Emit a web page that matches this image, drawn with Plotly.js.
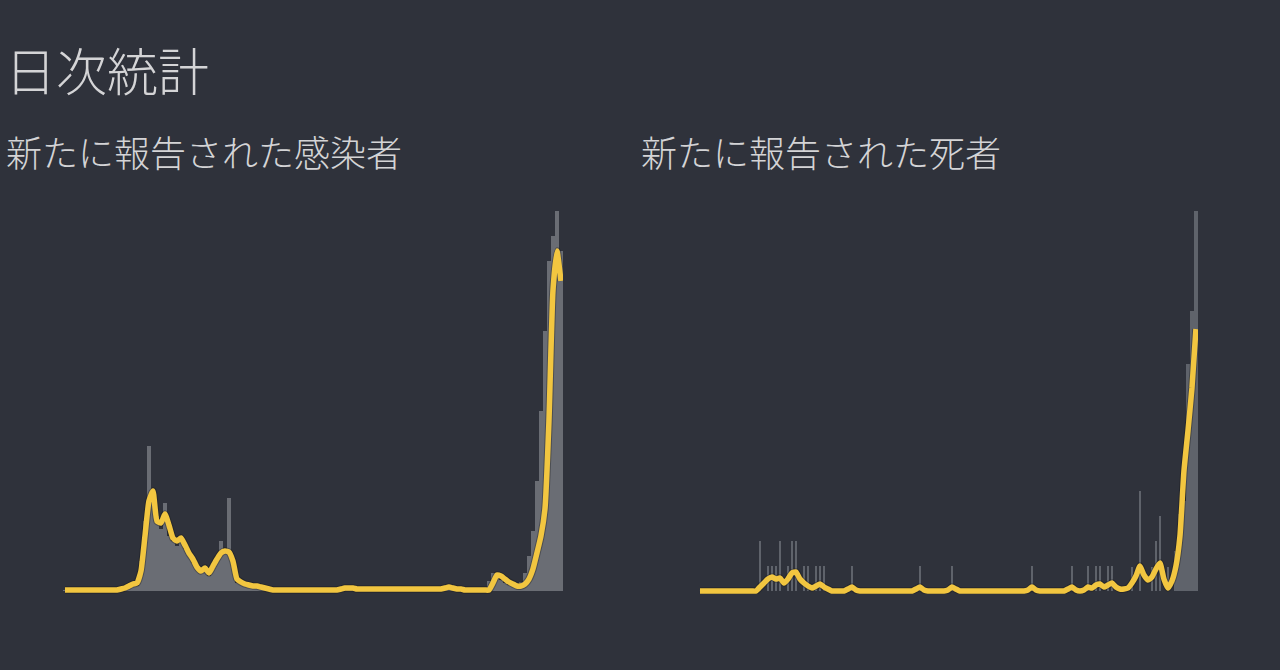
<!DOCTYPE html>
<html>
<head>
<meta charset="utf-8">
<script src="https://cdn.plot.ly/plotly-3.0.1.min.js"></script>
<style>
html,body{margin:0;padding:0;background:#2f323b;}
#chart{width:1280px;height:670px;}
</style>
</head>
<body>
<div id="chart"></div>
<script>
// Page & panel titles
const pageTitle = "日次統計";
const casesTitle = "新たに報告された感染者";
const deathsTitle = "新たに報告された死者";

// Daily new cases (bars) and 7-day average (line), arbitrary units, one value per period
const casesBars = [
  1,1,1,1,1,1,1,2,1,2,1,2,1,2,3,3,5,6,5,30,
  70,145,95,75,62,88,55,50,45,55,42,36,28,22,18,20,15,22,30,50,
  38,93,25,8,7,6,5,5,4,3,2,2,2,1,1,2,1,1,2,1,
  1,1,2,1,1,2,1,2,2,3,3,4,3,2,2,2,2,2,3,2,
  2,2,2,2,2,2,2,3,2,2,2,2,2,3,3,5,3,3,2,1,
  1,1,1,1,1,1,10,18,14,11,8,6,5,6,9,18,35,60,110,180,
  260,330,355,380,340
];
const casesAvg = [
  1,1,1,1,1,1,1,1,1,1,1,1,1,1,2,3,5,7,8,20,
  55,90,100,70,68,77,66,53,50,53,46,38,32,24,20,23,18,25,32,38,
  40,39,30,12,9,7,6,5,5,4,3,2,1,1,1,1,1,1,1,1,
  1,1,1,1,1,1,1,1,1,2,3,3,3,2,2,2,2,2,2,2,
  2,2,2,2,2,2,2,2,2,2,2,2,2,2,2,3,4,3,2,2,
  1,1,1,1,1,1,1,8,16,15,12,9,7,5,5,7,12,22,38,55,
  82,170,300,340,310
];

// Daily new deaths (bars) and 7-day average (line)
const deathsBars = [
  0,0,0,0,0,0,0,0,0,0,0,0,0,0,0,50,0,25,25,25,
  50,0,25,50,50,0,25,25,0,25,25,25,0,0,0,0,0,0,25,0,
  0,0,0,0,0,0,0,0,0,0,0,0,0,0,0,25,0,0,0,0,
  0,0,0,25,0,0,0,0,0,0,0,0,0,0,0,0,0,0,0,0,
  0,0,0,25,0,0,0,0,0,0,0,0,0,25,0,0,0,25,0,25,
  25,0,25,25,0,0,0,0,24,0,100,0,0,24,50,75,0,24,0,40,
  77,90,227,280,380
];
const deathsAvg = [
  0,0,0,0,0,0,0,0,0,0,0,0,0,0,0,4,8,12,14,12,
  13,8,12,18,19,12,8,5,3,5,7,4,2,0,0,0,0,2,4,1,
  0,0,0,0,0,0,0,0,0,0,0,0,0,0,2,4,1,0,0,0,
  0,0,1,4,2,0,0,0,0,0,0,0,0,0,0,0,0,0,0,0,
  0,0,1,4,1,0,0,0,0,0,0,0,2,4,1,0,1,4,3,6,
  7,4,6,8,4,2,2,3,8,15,25,16,11,14,22,28,12,3,10,25,
  55,120,160,203,262
];

function idx(n){ const a=[]; for(let i=0;i<n;i++) a.push(i); return a; }
// bar widths (style): thin spikes, solid fill for the final surge
function deathWidths(n){ const a=[]; for(let i=0;i<n;i++) a.push(i>=119?1:0.35); return a; }

const barColor = "#6a6d74";
const lineColor = "#f2c640";
const textColor = "#d4d4d6";
const font = "'Noto Sans CJK JP', 'Noto Sans', sans-serif";

const traces = [
  {type:"bar", x:idx(casesBars.length), y:casesBars, xaxis:"x", yaxis:"y",
   marker:{color:barColor, line:{width:0}}, hoverinfo:"skip"},
  {type:"scatter", mode:"lines", x:idx(casesAvg.length), y:casesAvg, xaxis:"x", yaxis:"y",
   line:{color:"rgba(20,20,20,0.35)", width:7.5, shape:"spline", smoothing:0.5}, hoverinfo:"skip"},
  {type:"scatter", mode:"lines", x:idx(casesAvg.length), y:casesAvg, xaxis:"x", yaxis:"y",
   line:{color:lineColor, width:5.5, shape:"spline", smoothing:0.5}, hoverinfo:"skip"},
  {type:"bar", x:idx(deathsBars.length), y:deathsBars, xaxis:"x2", yaxis:"y2", width:deathWidths(deathsBars.length),
   marker:{color:"#5f636b", line:{width:0}}, hoverinfo:"skip"},
  {type:"scatter", mode:"lines", x:idx(deathsAvg.length), y:deathsAvg, xaxis:"x2", yaxis:"y2",
   line:{color:"rgba(20,20,20,0.35)", width:7.5, shape:"spline", smoothing:0.5}, hoverinfo:"skip"},
  {type:"scatter", mode:"lines", x:idx(deathsAvg.length), y:deathsAvg, xaxis:"x2", yaxis:"y2",
   line:{color:lineColor, width:5.5, shape:"spline", smoothing:0.5}, hoverinfo:"skip"}
];

const axisHidden = {showgrid:false, zeroline:false, showticklabels:false, showline:false, ticks:"", fixedrange:true};

const layout = {
  width:1280, height:670,
  margin:{l:0,r:0,t:0,b:0},
  paper_bgcolor:"#2f323b", plot_bgcolor:"#2f323b",
  showlegend:false, bargap:0,
  xaxis:Object.assign({domain:[0.0492,0.4398], range:[-0.5,124.5]}, axisHidden),
  yaxis:Object.assign({domain:[0.1134,0.6925], range:[-3,385]}, axisHidden),
  xaxis2:Object.assign({domain:[0.5453,0.9359], range:[-0.5,124.5], anchor:"y2"}, axisHidden),
  yaxis2:Object.assign({domain:[0.1134,0.6925], range:[-3,385], anchor:"x2"}, axisHidden),
  annotations:[
    {text:pageTitle, xref:"paper", yref:"paper", x:3/1280, y:0.897, xanchor:"left", yanchor:"middle",
     showarrow:false, font:{family:font, size:51, color:textColor, weight:300}},
    {text:casesTitle, xref:"paper", yref:"paper", x:4/1280, y:0.7746, xanchor:"left", yanchor:"middle",
     showarrow:false, font:{family:font, size:36, color:textColor, weight:300}},
    {text:deathsTitle, xref:"paper", yref:"paper", x:639/1280, y:0.7746, xanchor:"left", yanchor:"middle",
     showarrow:false, font:{family:font, size:36, color:textColor, weight:300}}
  ]
};

Plotly.newPlot("chart", traces, layout, {displayModeBar:false, staticPlot:true});
</script>
</body>
</html>
